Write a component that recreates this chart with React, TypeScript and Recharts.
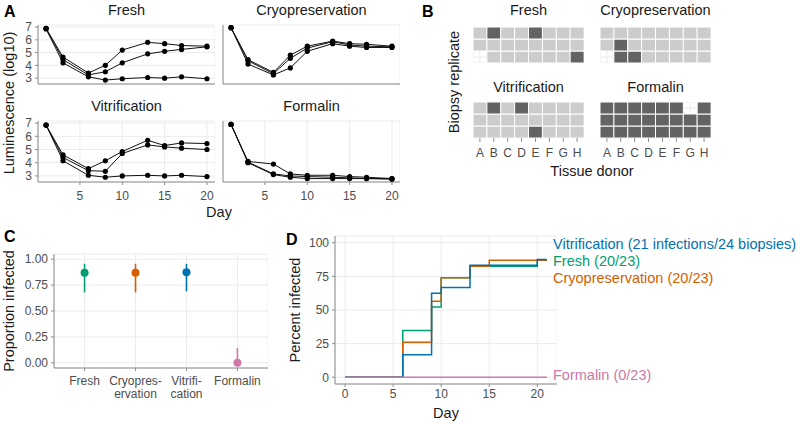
import React from 'react';
import {
  LineChart,
  Line,
  XAxis,
  YAxis,
  CartesianGrid,
  ScatterChart,
  Scatter,
  ErrorBar,
  BarChart,
  Bar,
  Cell,
} from 'recharts';

const FONT = '"Liberation Sans", Arial, Helvetica, sans-serif';
const GRID = '#ebebeb';
const AXIS = '#8c8c8c';
const TICK = '#4d4d4d';
const TITLE = '#1a1a1a';
const LIGHT = '#cccccc';
const DARK = '#636363';
const PAD = 8; // room above each plot so top tick labels are not clipped

// A: luminescence (log10) per day, three biopsies per condition
const lumDays = [1, 3, 6, 8, 10, 13, 15, 17, 20];
const freshLum = [
  [6.9, 4.65, 3.4, 4.0, 5.2, 5.8, 5.7, 5.55, 5.5],
  [6.9, 4.45, 3.25, 3.5, 4.2, 4.9, 5.1, 5.25, 5.45],
  [6.85, 4.2, 3.1, 2.85, 2.95, 3.05, 3.0, 3.1, 2.95],
];
const cryoLum = [
  [6.95, 4.45, 3.45, 4.8, 5.5, 5.9, 5.7, 5.65, 5.5],
  [6.95, 4.35, 3.35, 4.55, 5.35, 5.85, 5.6, 5.5, 5.45],
  [6.95, 4.1, 3.25, 3.8, 5.1, 5.7, 5.5, 5.4, 5.4],
];
const vitriLum = [
  [6.85, 4.6, 3.55, 4.15, 4.85, 5.7, 5.3, 5.5, 5.45],
  [6.85, 4.4, 3.4, 3.35, 4.7, 5.35, 5.2, 5.1, 5.0],
  [6.85, 4.15, 3.05, 2.9, 3.0, 3.05, 3.0, 3.05, 2.95],
];
const formalinLum = [
  [6.9, 4.1, 3.9, 3.15, 3.05, 3.05, 2.95, 2.9, 2.8],
  [6.9, 4.05, 3.15, 3.0, 2.95, 2.9, 2.85, 2.8, 2.8],
  [6.9, 4.0, 3.1, 2.9, 2.8, 2.8, 2.8, 2.8, 2.75],
];

// B: 1 = infected, 0 = not infected, null = no biopsy (rows top to bottom)
const donors = ['A', 'B', 'C', 'D', 'E', 'F', 'G', 'H'];
const freshTiles = [
  [1, 0, 1, 1, 0, 1, 1, 1],
  [1, 1, 1, 1, 1, 1, 1, 1],
  [null, 1, 1, 1, 1, 1, 1, 0],
];
const cryoTiles = [
  [1, 1, 1, 1, 1, 1, 1, 1],
  [1, 0, 1, 1, 1, 1, 1, 1],
  [null, 0, 0, 1, 1, 1, 1, 1],
];
const vitriTiles = [
  [1, 0, 1, 0, 1, 1, 1, 1],
  [1, 1, 1, 1, 1, 1, 1, 1],
  [1, 1, 1, 1, 0, 1, 1, 1],
];
const formalinTiles = [
  [0, 0, 0, 0, 0, 0, null, 0],
  [0, 0, 0, 0, 0, 0, 0, 0],
  [0, 0, 0, 0, 0, 0, 0, 0],
];

// C: proportion infected with interval
const groupNames = ['Fresh', 'Cryopreservation', 'Vitrification', 'Formalin'];
const groupTickLines = [['Fresh'], ['Cryopres-', 'ervation'], ['Vitrifi-', 'cation'], ['Formalin']];
const propInfected = [0.87, 0.87, 0.875, 0];
const propLow = [0.68, 0.68, 0.69, 0];
const propHigh = [0.955, 0.955, 0.955, 0.145];
const groupColors = ['#009E73', '#D55E00', '#0072B2', '#CC79A7'];

// D: cumulative percent infected
const freshDay = [0, 6, 9, 10, 13, 20, 21];
const freshPct = [0, 34.8, 52.2, 73.9, 82.6, 87.0, 87.0];
const cryoDay = [0, 6, 9, 10, 13, 15, 21];
const cryoPct = [0, 26.1, 56.5, 73.9, 82.6, 87.0, 87.0];
const vitriDay = [0, 6, 9, 10, 13, 20, 21];
const vitriPct = [0, 16.7, 62.5, 66.7, 83.3, 87.5, 87.5];
const formalinDay = [0, 21];
const formalinPct = [0, 0];

const tickStyle = { fontSize: 12, fill: TICK, fontFamily: FONT };

const toLumRows = (series: number[][]) =>
  lumDays.map((day, i) => ({ day, r1: series[0][i], r2: series[1][i], r3: series[2][i] }));

type LumProps = {
  series: number[][];
  left: number;
  top: number;
  plotH: number;
  showX: boolean;
  showY: boolean;
};

const LumFacet = ({ series, left, top, plotH, showX, showY }: LumProps) => {
  const xH = showX ? 22 : 1;
  return (
    <div style={{ position: 'absolute', left, top: top - PAD }}>
      <LineChart
        width={38 + 177}
        height={PAD + plotH + xH}
        data={toLumRows(series)}
        margin={{ top: PAD, right: 0, bottom: 0, left: 0 }}
      >
        <CartesianGrid stroke={GRID} />
        <XAxis
          type="number"
          dataKey="day"
          domain={[0.05, 20.95]}
          ticks={[5, 10, 15, 20]}
          interval={0}
          height={xH}
          tick={showX ? tickStyle : false}
          tickSize={3}
          tickMargin={6}
          stroke={AXIS}
        />
        <YAxis
          type="number"
          domain={[2.54, 7.16]}
          ticks={[3, 4, 5, 6, 7]}
          interval={0}
          width={38}
          tick={showY ? tickStyle : false}
          tickSize={3}
          tickMargin={3}
          stroke={AXIS}
        />
        {['r1', 'r2', 'r3'].map((k) => (
          <Line
            key={k}
            type="linear"
            dataKey={k}
            stroke="#111"
            strokeWidth={1}
            dot={{ r: 2.6, fill: '#000', stroke: '#000', strokeWidth: 0 }}
            isAnimationActive={false}
          />
        ))}
      </LineChart>
    </div>
  );
};

type TileProps = { tiles: (number | null)[][]; left: number; top: number; showX: boolean };

const TileFacet = ({ tiles, left, top, showX }: TileProps) => {
  const data = donors.map((donor) => ({ donor, row1: 1, row2: 1, row3: 1 }));
  return (
    <div style={{ position: 'absolute', left, top }}>
      <BarChart
        width={111}
        height={36 + (showX ? 24 : 0)}
        data={data}
        margin={{ top: 0, right: 0, bottom: 0, left: 0 }}
        barCategoryGap={0}
        barGap={0}
      >
        <CartesianGrid stroke={GRID} />
        <XAxis
          dataKey="donor"
          hide={!showX}
          height={24}
          interval={0}
          axisLine={false}
          tickLine={{ stroke: AXIS }}
          tickSize={4}
          tickMargin={6}
          tick={tickStyle}
        />
        <YAxis type="number" hide domain={[0, 3]} ticks={[0.5, 1.5, 2.5]} interval={0} />
        {[2, 1, 0].map((r) => (
          <Bar key={r} dataKey={`row${r + 1}`} stackId="t" isAnimationActive={false}>
            {tiles[r].map((s, i) => (
              <Cell
                key={i}
                fill={s === null ? 'none' : s ? LIGHT : DARK}
                stroke={s === null ? 'none' : '#ffffff'}
                strokeWidth={1}
              />
            ))}
          </Bar>
        ))}
      </BarChart>
    </div>
  );
};

const groupTick = (props: any) => {
  const { x, y, payload } = props;
  const lines = groupTickLines[Math.round(payload.value) - 1] || [];
  return (
    <text x={x} y={y} textAnchor="middle" fontSize={12} fill={TICK} fontFamily={FONT}>
      {lines.map((t, i) => (
        <tspan key={t} x={x} dy={i === 0 ? 9 : 12.5}>
          {t}
        </tspan>
      ))}
    </text>
  );
};

const propRows = groupNames.map((name, i) => ({
  name,
  x: i + 1,
  y: propInfected[i],
  err: [propInfected[i] - propLow[i], propHigh[i] - propInfected[i]],
  color: groupColors[i],
}));

const curves = [
  { name: 'Fresh', color: groupColors[0], data: freshDay.map((day, i) => ({ day, pct: freshPct[i] })) },
  { name: 'Cryopreservation', color: groupColors[1], data: cryoDay.map((day, i) => ({ day, pct: cryoPct[i] })) },
  { name: 'Vitrification', color: groupColors[2], data: vitriDay.map((day, i) => ({ day, pct: vitriPct[i] })) },
  { name: 'Formalin', color: groupColors[3], data: formalinDay.map((day, i) => ({ day, pct: formalinPct[i] })) },
];

type TProps = {
  x: number;
  y: number;
  size?: number;
  anchor?: 'start' | 'middle' | 'end';
  rotate?: boolean;
  bold?: boolean;
  fill?: string;
  children: React.ReactNode;
};

const T = ({ x, y, size = 14.5, anchor = 'middle', rotate = false, bold = false, fill = TITLE, children }: TProps) => (
  <text
    x={x}
    y={y}
    fontSize={size}
    textAnchor={anchor}
    fontWeight={bold ? 'bold' : 'normal'}
    fill={fill}
    fontFamily={FONT}
    transform={rotate ? `rotate(-90 ${x} ${y})` : undefined}
  >
    {children}
  </text>
);

export default function App() {
  return (
    <div
      style={{
        position: 'absolute',
        left: 0,
        top: 0,
        width: 800,
        height: 424,
        background: '#fff',
        fontFamily: FONT,
        overflow: 'hidden',
      }}
    >
      {/* A */}
      <LumFacet series={freshLum} left={0} top={25} plotH={59} showX={false} showY />
      <LumFacet series={cryoLum} left={185} top={25} plotH={59} showX={false} showY={false} />
      <LumFacet series={vitriLum} left={0} top={121} plotH={61} showX showY />
      <LumFacet series={formalinLum} left={185} top={121} plotH={61} showX showY={false} />

      {/* B */}
      <TileFacet tiles={freshTiles} left={473} top={27} showX={false} />
      <TileFacet tiles={cryoTiles} left={600} top={27} showX={false} />
      <TileFacet tiles={vitriTiles} left={473} top={102} showX />
      <TileFacet tiles={formalinTiles} left={600} top={102} showX />

      {/* C */}
      <div style={{ position: 'absolute', left: 0, top: 254 - PAD }}>
        <ScatterChart width={268} height={PAD + 114 + 40} margin={{ top: PAD, right: 0, bottom: 0, left: 0 }}>
          <CartesianGrid stroke={GRID} />
          <XAxis
            type="number"
            dataKey="x"
            domain={[0.4, 4.6]}
            ticks={[1, 2, 3, 4]}
            interval={0}
            tick={groupTick}
            height={40}
            tickSize={3}
            tickMargin={5}
            stroke={AXIS}
          />
          <YAxis
            type="number"
            dataKey="y"
            domain={[-0.05, 1.05]}
            ticks={[0, 0.25, 0.5, 0.75, 1]}
            interval={0}
            tickFormatter={(v: number) => v.toFixed(2)}
            width={54}
            tick={tickStyle}
            tickSize={3}
            tickMargin={3}
            stroke={AXIS}
          />
          {propRows.map((r) => (
            <Scatter
              key={r.name}
              data={[r]}
              fill={r.color}
              isAnimationActive={false}
              shape={(p: any) => <circle cx={p.cx} cy={p.cy} r={4} fill={r.color} />}
            >
              <ErrorBar dataKey="err" direction="y" width={0} stroke={r.color} strokeWidth={1.6} />
            </Scatter>
          ))}
        </ScatterChart>
      </div>

      {/* D */}
      <div style={{ position: 'absolute', left: 300, top: 236 - PAD }}>
        <LineChart width={257} height={PAD + 148 + 22} margin={{ top: PAD, right: 0, bottom: 0, left: 0 }}>
          <CartesianGrid stroke={GRID} />
          <XAxis
            type="number"
            dataKey="day"
            domain={[-1.05, 22.05]}
            ticks={[0, 5, 10, 15, 20]}
            interval={0}
            height={22}
            tick={tickStyle}
            tickSize={3}
            tickMargin={2}
            stroke={AXIS}
          />
          <YAxis
            type="number"
            domain={[-5, 105]}
            ticks={[0, 25, 50, 75, 100]}
            interval={0}
            width={35}
            tick={tickStyle}
            tickSize={3}
            tickMargin={3}
            stroke={AXIS}
          />
          {curves.map((c) => (
            <Line
              key={c.name}
              data={c.data}
              dataKey="pct"
              type="stepAfter"
              stroke={c.color}
              strokeWidth={1.5}
              dot={false}
              isAnimationActive={false}
            />
          ))}
        </LineChart>
      </div>

      <svg
        width={800}
        height={424}
        style={{ position: 'absolute', left: 0, top: 0, pointerEvents: 'none' }}
      >
        <T x={4} y={17} size={16} anchor="start" bold fill="#000">A</T>
        <T x={126.5} y={15}>Fresh</T>
        <T x={311.5} y={15}>Cryopreservation</T>
        <T x={126.5} y={111}>Vitrification</T>
        <T x={311.5} y={111}>Formalin</T>
        <T x={219} y={217}>Day</T>
        <T x={13.5} y={103} rotate>Luminescence (log10)</T>

        <T x={422} y={17} size={16} anchor="start" bold fill="#000">B</T>
        <T x={528.5} y={15}>Fresh</T>
        <T x={655.5} y={15}>Cryopreservation</T>
        <T x={528.5} y={92}>Vitrification</T>
        <T x={655.5} y={92}>Formalin</T>
        <T x={592} y={176}>Tissue donor</T>
        <T x={458.5} y={82} rotate>Biopsy replicate</T>

        <T x={4} y={242} size={16} anchor="start" bold fill="#000">C</T>
        <T x={13.5} y={311} rotate>Proportion infected</T>

        <T x={286} y={245} size={16} anchor="start" bold fill="#000">D</T>
        <T x={300} y={310} rotate>Percent infected</T>
        <T x={446} y={418}>Day</T>
        <T x={553} y={249} anchor="start" fill={groupColors[2]}>Vitrification (21 infections/24 biopsies)</T>
        <T x={553} y={265.7} anchor="start" fill={groupColors[0]}>Fresh (20/23)</T>
        <T x={553} y={283} anchor="start" fill={groupColors[1]}>Cryopreservation (20/23)</T>
        <T x={553} y={380} anchor="start" fill={groupColors[3]}>Formalin (0/23)</T>
      </svg>
    </div>
  );
}
